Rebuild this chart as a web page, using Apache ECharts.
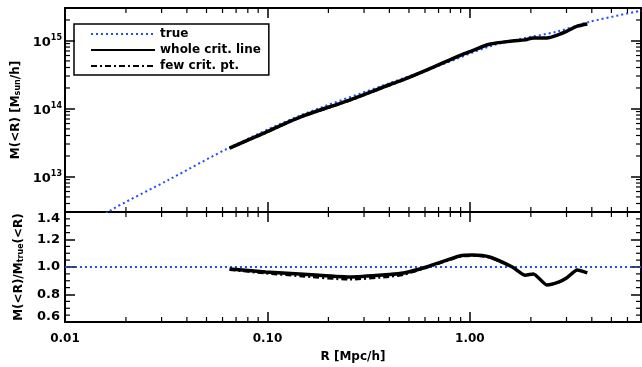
<!DOCTYPE html>
<html>
<head>
<meta charset="utf-8">
<script src="https://cdn.jsdelivr.net/npm/echarts@6/dist/echarts.min.js"></script>
<style>
  html, body { margin: 0; padding: 0; background: #fff; }
  #chart { width: 642px; height: 367px; }
</style>
</head>
<body>
<div id="chart"></div>
<script>
// radius [Mpc/h] and M(<R) [Msun/h]
var trueR = [0.0120, 0.0165, 0.0327, 0.0649, 0.144, 0.402, 0.71, 1.256, 1.83, 2.70, 3.93, 7.03];
var trueM = [1.6e12, 3.08e12, 9.0e12, 2.65e13, 7.8e13, 2.36e14, 4.3e14, 8.2e14, 1.07e15, 1.35e15, 1.89e15, 2.74e15];

// whole critical line
var lineR = [0.065, 0.098, 0.144, 0.254, 0.40, 0.47, 0.61, 0.89, 1.03, 1.25, 1.62, 1.88, 2.06, 2.40, 2.74, 3.00, 3.39, 3.80];
var lineM = [2.61e13, 4.46e13, 7.4e13, 1.33e14, 2.23e14, 2.66e14, 3.66e14, 6.0e14, 7.1e14, 8.8e14, 9.8e14, 1.02e15, 1.09e15, 1.09e15, 1.22e15, 1.36e15, 1.62e15, 1.75e15];
var lineRatio = [0.985, 0.964, 0.949, 0.927, 0.945, 0.956, 1.0, 1.08, 1.087, 1.073, 1.0, 0.94, 0.95, 0.87, 0.89, 0.92, 0.978, 0.957];

// few critical points
var fewR = [0.065, 0.098, 0.144, 0.254, 0.40, 0.47, 0.61, 0.89, 1.03, 1.25, 1.62];
var fewM = [2.6e13, 4.41e13, 7.29e13, 1.31e14, 2.19e14, 2.63e14, 3.64e14, 5.97e14, 7.09e14, 8.77e14, 9.8e14];
var fewRatio = [0.98, 0.955, 0.935, 0.91, 0.93, 0.945, 0.995, 1.075, 1.083, 1.07, 1.0];

var ratioLineR = [0.01, 7];
var ratioLineV = [1.0, 1.0];

// minor tick positions
var xMinor = [0.02, 0.03, 0.04, 0.05, 0.06, 0.07, 0.08, 0.09, 0.2, 0.3, 0.4, 0.5, 0.6, 0.7, 0.8, 0.9, 2, 3, 4, 5, 6];
var yMinorTop = [4e12, 5e12, 6e12, 7e12, 8e12, 9e12, 2e13, 3e13, 4e13, 5e13, 6e13, 7e13, 8e13, 9e13,
                 2e14, 3e14, 4e14, 5e14, 6e14, 7e14, 8e14, 9e14, 2e15];
var yMinorBot = [0.65, 0.7, 0.75, 0.85, 0.9, 0.95, 1.05, 1.1, 1.15, 1.25, 1.3, 1.35];

var X_MIN = 0.01, X_MAX = 7, YT_MIN = 3e12, YT_MAX = 3e15, YB_MIN = 0.6, YB_MAX = 1.4;

function zip(a, b) { return a.map(function (v, i) { return [v, b[i]]; }); }

var chart = echarts.init(document.getElementById('chart'), null, { renderer: 'canvas' });
var font = 'DejaVu Sans';
var fs = 12;
var axisLine = { show: true, onZero: false, lineStyle: { color: '#000', width: 2 } };
var tickMaj = { show: true, inside: true, length: 10, lineStyle: { color: '#000', width: 1.5 } };

function xAxis(grid, pos, labels) {
  return {
    type: 'log', gridIndex: grid, position: pos, min: X_MIN, max: X_MAX, logBase: 10,
    axisLine: axisLine, axisTick: tickMaj, splitLine: { show: false },
    axisLabel: {
      show: labels, margin: 11, color: '#000', fontFamily: font, fontWeight: 'bold', fontSize: fs,
      showMaxLabel: false,
      formatter: function (v) { return v.toFixed(2); }
    },
    name: labels ? 'R [Mpc/h]' : '', nameLocation: 'middle', nameGap: 29,
    nameTextStyle: { color: '#000', fontFamily: font, fontWeight: 'bold', fontSize: fs }
  };
}

// short inside ticks drawn on both opposite edges of a grid
function minorTicks(name, xi, yi, values, dir, lo, hi) {
  return {
    type: 'custom', name: name, xAxisIndex: xi, yAxisIndex: yi, silent: true, z: 5,
    data: values.map(function (v) { return [v]; }),
    renderItem: function (params, api) {
      var v = api.value(0);
      var a, b;
      if (dir === 'x') {
        a = api.coord([v, lo]); b = api.coord([v, hi]);
        return { type: 'group', children: [
          { type: 'line', shape: { x1: a[0], y1: a[1], x2: a[0], y2: a[1] - 5 }, style: { stroke: '#000', lineWidth: 1.2 } },
          { type: 'line', shape: { x1: b[0], y1: b[1], x2: b[0], y2: b[1] + 5 }, style: { stroke: '#000', lineWidth: 1.2 } }
        ] };
      }
      a = api.coord([lo, v]); b = api.coord([hi, v]);
      return { type: 'group', children: [
        { type: 'line', shape: { x1: a[0], y1: a[1], x2: a[0] + 5, y2: a[1] }, style: { stroke: '#000', lineWidth: 1.2 } },
        { type: 'line', shape: { x1: b[0], y1: b[1], x2: b[0] - 5, y2: b[1] }, style: { stroke: '#000', lineWidth: 1.2 } }
      ] };
    }
  };
}

var option = {
  animation: false,
  backgroundColor: '#fff',
  grid: [
    { left: 65, right: 1, top: 8, height: 204 },
    { left: 65, right: 1, top: 212, height: 110 }
  ],
  legend: {
    orient: 'vertical', left: 74, top: 24,
    borderColor: '#000', borderWidth: 1.5, padding: [4, 8, 3, 16],
    itemWidth: 64, itemHeight: 10, itemGap: 4,
    itemStyle: { opacity: 0 },
    textStyle: { color: '#000', fontFamily: font, fontWeight: 'bold', fontSize: fs },
    data: ['true', 'whole crit. line', 'few crit. pt.']
  },
  xAxis: [xAxis(0, 'bottom', false), xAxis(0, 'top', false), xAxis(1, 'bottom', true), xAxis(1, 'top', false)],
  yAxis: [
    {
      type: 'log', gridIndex: 0, position: 'left', min: YT_MIN, max: YT_MAX, logBase: 10,
      axisLine: axisLine, axisTick: tickMaj, splitLine: { show: false },
      axisLabel: {
        margin: 3, color: '#000',
        showMinLabel: false, showMaxLabel: false,
        formatter: function (v) { return '{b|10}{e|' + Math.round(Math.log10(v)) + '}'; },
        rich: {
          b: { fontFamily: font, fontWeight: 'bold', fontSize: fs + 1, color: '#000', padding: [4, 0, 0, 0] },
          e: { fontFamily: font, fontWeight: 'bold', fontSize: 8, color: '#000', padding: [0, 0, 6, 0] }
        }
      },
      name: '{t|M(<R) [M}{s|sun}{t|/h]}', nameLocation: 'middle', nameGap: 40, nameRotate: 90,
      nameTextStyle: {
        rich: {
          t: { fontFamily: font, fontWeight: 'bold', fontSize: fs, color: '#000' },
          s: { fontFamily: font, fontWeight: 'bold', fontSize: 8, color: '#000', padding: [5, 0, 0, 0] }
        }
      }
    },
    {
      type: 'log', gridIndex: 0, position: 'right', min: YT_MIN, max: YT_MAX, logBase: 10,
      axisLine: axisLine, axisTick: tickMaj, splitLine: { show: false },
      axisLabel: { show: false }
    },
    {
      type: 'value', gridIndex: 1, position: 'left', min: YB_MIN, max: YB_MAX, interval: 0.2,
      axisLine: axisLine, axisTick: tickMaj, splitLine: { show: false },
      axisLabel: {
        margin: 5, color: '#000', fontFamily: font, fontWeight: 'bold', fontSize: fs + 1,
        formatter: function (v) {
          if (v > 1.35) return '{d|' + v.toFixed(1) + '}';
          if (v < 0.65) return '{u|' + v.toFixed(1) + '}';
          return v.toFixed(1);
        },
        rich: {
          d: { fontFamily: font, fontWeight: 'bold', fontSize: fs + 1, color: '#000', padding: [14, 0, 0, 0] },
          u: { fontFamily: font, fontWeight: 'bold', fontSize: fs + 1, color: '#000', padding: [0, 0, 10, 0] }
        }
      },
      name: '{t|M(<R)/M}{s|true}{t|(<R)}', nameLocation: 'middle', nameGap: 40, nameRotate: 90,
      nameTextStyle: {
        rich: {
          t: { fontFamily: font, fontWeight: 'bold', fontSize: fs, color: '#000' },
          s: { fontFamily: font, fontWeight: 'bold', fontSize: 8, color: '#000', padding: [5, 0, 0, 0] }
        }
      }
    },
    {
      type: 'value', gridIndex: 1, position: 'right', min: YB_MIN, max: YB_MAX, interval: 0.2,
      axisLine: axisLine, axisTick: tickMaj, splitLine: { show: false },
      axisLabel: { show: false }
    }
  ],
  series: [
    {
      name: 'true', type: 'line', xAxisIndex: 0, yAxisIndex: 0, symbol: 'none', smooth: 0.3,
      clip: true, z: 3,
      lineStyle: { color: '#1f4cff', width: 2, type: [2, 3] }, itemStyle: { color: '#1f4cff' },
      data: zip(trueR, trueM)
    },
    {
      name: 'whole crit. line', type: 'line', xAxisIndex: 0, yAxisIndex: 0, symbol: 'none', smooth: 0.3,
      lineStyle: { color: '#000', width: 3.5 }, itemStyle: { color: '#000' },
      data: zip(lineR, lineM)
    },
    {
      name: 'few crit. pt.', type: 'line', xAxisIndex: 0, yAxisIndex: 0, symbol: 'none', smooth: 0.3,
      lineStyle: { color: '#000', width: 2.5, type: [6, 3, 2, 3] }, itemStyle: { color: '#000' },
      data: zip(fewR, fewM)
    },
    {
      name: 'true', type: 'line', xAxisIndex: 2, yAxisIndex: 2, symbol: 'none', z: 3,
      lineStyle: { color: '#1f4cff', width: 2, type: [2, 3] },
      data: zip(ratioLineR, ratioLineV)
    },
    {
      name: 'whole crit. line', type: 'line', xAxisIndex: 2, yAxisIndex: 2, symbol: 'none', smooth: 0.2,
      lineStyle: { color: '#000', width: 3.5 },
      data: zip(lineR, lineRatio)
    },
    {
      name: 'few crit. pt.', type: 'line', xAxisIndex: 2, yAxisIndex: 2, symbol: 'none', smooth: 0.2,
      lineStyle: { color: '#000', width: 2.5, type: [6, 3, 2, 3] },
      data: zip(fewR, fewRatio)
    },
    minorTicks('xt', 0, 0, xMinor, 'x', YT_MIN, YT_MAX),
    minorTicks('yt', 0, 0, yMinorTop, 'y', X_MIN, X_MAX),
    minorTicks('xb', 2, 2, xMinor, 'x', YB_MIN, YB_MAX),
    minorTicks('yb', 2, 2, yMinorBot, 'y', X_MIN, X_MAX)
  ]
};
chart.setOption(option);
window.addEventListener('resize', chart.resize);
</script>
</body>
</html>
